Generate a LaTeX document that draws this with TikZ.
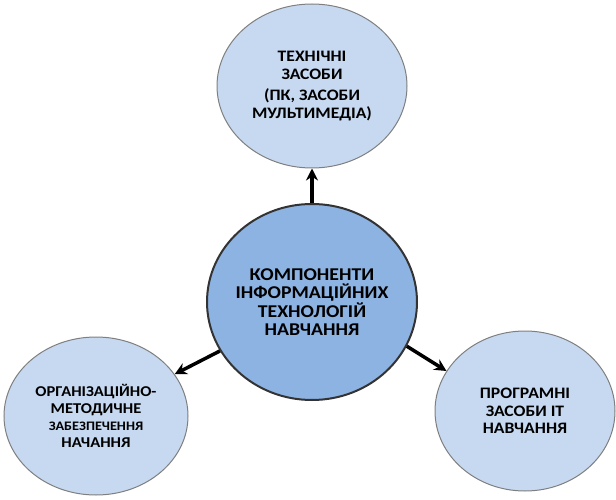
\documentclass[tikz,border=0pt]{standalone}
\usepackage{fontspec}
\setmainfont{Carlito}[FakeStretch=1.1]
\usetikzlibrary{shapes.geometric,arrows.meta}
\definecolor{outerfill}{HTML}{C6D9F1}
\definecolor{centerfill}{HTML}{8DB3E2}
\definecolor{outerdraw}{HTML}{7F7F7F}
\tikzset{
  outerbox/.style={ellipse, draw=outerdraw, line width=1pt, fill=outerfill, inner sep=-20pt, align=center, font=\bfseries\fontsize{16}{17.5}\selectfont},
  centerbox/.style={ellipse, draw=black!80, line width=2pt, fill=centerfill, inner sep=-20pt, align=center, font=\bfseries\fontsize{18}{18.5}\selectfont},
  conn/.style={line width=3.5pt, -{Stealth[length=12pt,width=12pt]}}
}
\begin{document}
\begin{tikzpicture}[x=1pt,y=1pt]
\useasboundingbox (0,0) rectangle (616,499);
\node[outerbox, minimum width=190pt, minimum height=164pt] (t) at (312,413) {ТЕХНІЧНІ\\ЗАСОБИ\\[4pt](ПК, ЗАСОБИ\\МУЛЬТИМЕДІА)};
\node[centerbox, minimum width=210pt, minimum height=196pt] (c) at (312,197) {КОМПОНЕНТИ\\ІНФОРМАЦІЙНИХ\\ТЕХНОЛОГІЙ\\НАВЧАННЯ};
\node[outerbox, minimum width=184pt, minimum height=158pt, font=\bfseries\fontsize{15}{17}\selectfont] (l) at (96,83) {ОРГАНІЗАЦІЙНО-\\МЕТОДИЧНЕ\\{\fontsize{13}{17}\selectfont ЗАБЕЗПЕЧЕННЯ}\\НАЧАННЯ};
\node[outerbox, minimum width=180pt, minimum height=160pt] (r) at (525,88) {ПРОГРАМНІ\\ЗАСОБИ ІТ\\НАВЧАННЯ};
\draw[conn] (c.90) -- (t.-90);
\draw[conn] (c.208) -- (l.28);
\draw[conn] (c.-25) -- (r.153);
\end{tikzpicture}
\end{document}
